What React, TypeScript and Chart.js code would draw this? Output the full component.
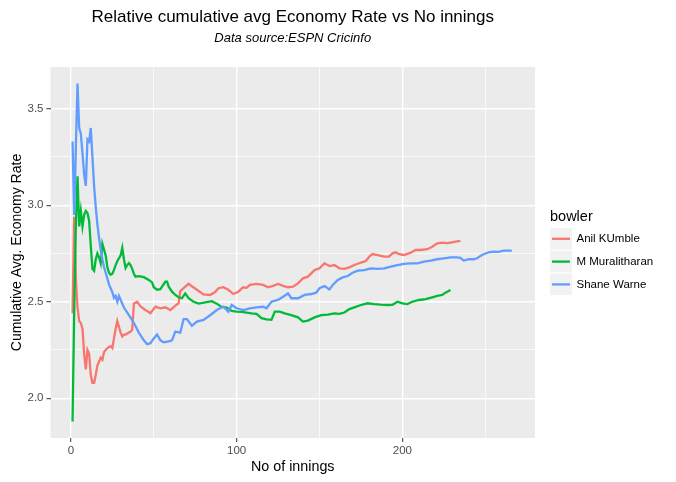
import React, { useEffect, useRef } from "react";
import { Chart, registerables } from "chart.js";

Chart.register(...registerables);

const FONT = "'Liberation Sans', Arial, sans-serif";

const bowlers = ["Anil KUmble", "M Muralitharan", "Shane Warne"];
const bowlerColors = ["#F8766D", "#00BA38", "#619CFF"];

const kumbleInnings = [
  1, 2, 3, 4, 5, 6, 7, 8, 9, 10, 11, 12, 13, 14, 15, 16, 17, 18, 19, 20,
  21, 22, 23, 24, 25, 26, 27, 28, 29, 30, 31, 32, 33, 34, 35, 36, 37, 38, 40, 42,
  45, 48, 51, 54, 57, 60, 63, 65, 66, 68, 71, 73, 76, 80, 84, 87, 89, 92, 95, 98,
  101, 104, 106, 108, 112, 116, 119, 122, 125, 128, 131, 134, 137, 140, 143, 147, 150, 153, 156, 159,
  162, 165, 168, 171, 175, 178, 180, 182, 185, 189, 192, 194, 196, 198, 201, 205, 208, 211, 215, 218,
  221, 224, 227, 230, 232, 235,
];
const kumbleRate = [
  2.44, 2.94, 2.62, 2.47, 2.4, 2.39, 2.36, 2.23, 2.15, 2.25, 2.23, 2.12, 2.08, 2.08, 2.12, 2.17, 2.19, 2.21, 2.2, 2.24,
  2.25, 2.26, 2.265, 2.27, 2.26, 2.31, 2.36, 2.4, 2.37, 2.34, 2.32, 2.33, 2.33, 2.335, 2.34, 2.345, 2.355, 2.49, 2.5, 2.475,
  2.457, 2.44, 2.475, 2.466, 2.471, 2.457, 2.48, 2.492, 2.555, 2.57, 2.593, 2.58, 2.562, 2.538, 2.535, 2.55, 2.57, 2.575, 2.562, 2.54,
  2.552, 2.575, 2.572, 2.587, 2.592, 2.587, 2.575, 2.582, 2.592, 2.582, 2.575, 2.578, 2.595, 2.621, 2.63, 2.664, 2.673, 2.699, 2.685, 2.69,
  2.673, 2.67, 2.678, 2.69, 2.703, 2.711, 2.734, 2.747, 2.742, 2.734, 2.734, 2.751, 2.756, 2.746, 2.742, 2.754, 2.768, 2.768, 2.772, 2.785,
  2.803, 2.806, 2.804, 2.808, 2.811, 2.815,
];

const muraliInnings = [
  1, 2, 3, 4, 5, 6, 7, 8, 9, 10, 11, 12, 13, 14, 15, 16, 17, 18, 19, 20,
  21, 22, 23, 24, 25, 26, 27, 28, 29, 30, 31, 32, 33, 34, 35, 36, 37, 38, 39, 41,
  44, 47, 49, 50, 52, 54, 55, 57, 58, 59, 61, 63, 65, 67, 69, 71, 74, 77, 81, 85,
  88, 91, 94, 97, 100, 103, 106, 109, 112, 115, 118, 121, 123, 126, 129, 133, 137, 140, 143, 147,
  151, 155, 159, 162, 165, 168, 171, 175, 179, 183, 187, 191, 194, 197, 200, 203, 206, 210, 214, 218,
  221, 224, 226, 229,
];
const muraliRate = [
  1.88, 2.45, 2.9, 3.15, 2.89, 2.97, 2.89, 2.95, 2.97, 2.96, 2.92, 2.79, 2.67, 2.66, 2.72, 2.75, 2.73, 2.7, 2.8, 2.77,
  2.74, 2.68, 2.65, 2.64, 2.645, 2.665, 2.69, 2.71, 2.725, 2.74, 2.78, 2.72, 2.675, 2.69, 2.7, 2.69, 2.67, 2.645, 2.63, 2.633,
  2.627, 2.613, 2.6, 2.575, 2.562, 2.565, 2.578, 2.604, 2.604, 2.578, 2.552, 2.535, 2.523, 2.518, 2.543, 2.518, 2.5, 2.49, 2.496, 2.503,
  2.49, 2.473, 2.47, 2.453, 2.449, 2.447, 2.444, 2.44, 2.437, 2.415, 2.409, 2.406, 2.449, 2.449, 2.44, 2.431, 2.419, 2.397, 2.402, 2.419,
  2.431, 2.433, 2.44, 2.437, 2.444, 2.462, 2.471, 2.483, 2.492, 2.488, 2.485, 2.483, 2.484, 2.5, 2.492, 2.488, 2.5, 2.509, 2.513, 2.523,
  2.53, 2.535, 2.547, 2.561,
];

const warneInnings = [
  1, 2, 3, 4, 5, 6, 7, 8, 9, 10, 11, 12, 13, 14, 15, 16, 17, 18, 19, 20,
  21, 22, 23, 24, 25, 26, 27, 28, 29, 30, 32, 35, 38, 41, 44, 46, 48, 50, 52, 54,
  56, 59, 61, 63, 66, 68, 70, 73, 76, 80, 84, 88, 92, 95, 97, 100, 104, 108, 112, 116,
  118, 121, 125, 128, 131, 133, 137, 141, 145, 148, 150, 153, 156, 158, 161, 164, 167, 170, 173, 177,
  181, 185, 189, 193, 197, 201, 205, 209, 213, 217, 221, 225, 229, 233, 235, 237, 240, 243, 245, 248,
  252, 255, 258, 261, 266,
];
const warneRate = [
  3.33, 2.95, 3.3, 3.63, 3.4, 3.37, 3.27, 3.16, 3.1, 3.34, 3.33, 3.4, 3.25, 3.1, 2.99, 2.9, 2.83, 2.77, 2.72, 2.68,
  2.65, 2.62, 2.59, 2.57, 2.55, 2.52, 2.53, 2.5, 2.53, 2.51, 2.47, 2.43, 2.39, 2.34, 2.3, 2.28, 2.285, 2.31, 2.33, 2.3,
  2.29, 2.295, 2.3, 2.345, 2.34, 2.41, 2.41, 2.375, 2.397, 2.406, 2.43, 2.457, 2.475, 2.448, 2.483, 2.466, 2.457, 2.466, 2.471, 2.474,
  2.466, 2.5, 2.509, 2.526, 2.543, 2.518, 2.518, 2.535, 2.54, 2.547, 2.57, 2.581, 2.564, 2.587, 2.613, 2.626, 2.633, 2.65, 2.661, 2.664,
  2.673, 2.67, 2.673, 2.682, 2.69, 2.696, 2.699, 2.699, 2.708, 2.713, 2.72, 2.725, 2.73, 2.73, 2.727, 2.713, 2.72, 2.72, 2.725, 2.742,
  2.756, 2.76, 2.758, 2.765, 2.765,
];

const xMajorTicks = [0, 100, 200];
const xMinorTicks = [50, 150, 250];
const yMajorTicks = [2.0, 2.5, 3.0, 3.5];
const yMinorTicks = [2.25, 2.75, 3.25];

const titleText = "Relative cumulative avg Economy Rate vs No innings";
const subtitleText = "Data source:ESPN Cricinfo";
const xTitle = "No of innings";
const yTitle = "Cumulative Avg. Economy Rate";
const legendTitle = "bowler";

const seriesInnings = [kumbleInnings, muraliInnings, warneInnings];
const seriesRates = [kumbleRate, muraliRate, warneRate];

const isMajor = (list: number[], v: number) => list.some((m) => Math.abs(m - v) < 1e-9);

const panelBgPlugin = {
  id: "panelBg",
  beforeDraw(chart: any) {
    const { ctx, chartArea: a } = chart;
    ctx.save();
    ctx.fillStyle = "#FFFFFF";
    ctx.fillRect(0, 0, chart.width, chart.height);
    ctx.fillStyle = "#EBEBEB";
    ctx.fillRect(a.left, a.top, a.right - a.left, a.bottom - a.top);
    ctx.restore();
  },
};

const legendPlugin = {
  id: "ggLegend",
  afterDraw(chart: any) {
    const ctx = chart.ctx;
    ctx.save();
    ctx.textBaseline = "middle";
    ctx.textAlign = "left";
    ctx.fillStyle = "#000000";
    ctx.font = `14.5px ${FONT}`;
    ctx.fillText(legendTitle, 550, 216.5);
    chart.data.datasets.forEach((ds: any, i: number) => {
      const top = 228 + i * 22.8;
      ctx.fillStyle = "#F2F2F2";
      ctx.fillRect(550, top, 22, 21.6);
      ctx.strokeStyle = ds.borderColor;
      ctx.lineWidth = 2.3;
      ctx.beginPath();
      ctx.moveTo(552, top + 10.8);
      ctx.lineTo(570, top + 10.8);
      ctx.stroke();
      ctx.fillStyle = "#000000";
      ctx.font = `11.5px ${FONT}`;
      ctx.fillText(ds.label, 576.5, top + 10.8);
    });
    ctx.restore();
  },
};

export default function App() {
  const canvasRef = useRef<HTMLCanvasElement | null>(null);

  useEffect(() => {
    if (!canvasRef.current) return;
    const datasets = bowlers.map((name, i) => ({
      label: name,
      data: seriesInnings[i].map((n, k) => ({ x: n, y: seriesRates[i][k] })),
      borderColor: bowlerColors[i],
      backgroundColor: bowlerColors[i],
      borderWidth: 2.3,
      pointRadius: 0,
      pointHoverRadius: 0,
      tension: 0,
      fill: false,
      order: bowlers.length - 1 - i,
    }));

    const chart = new Chart(canvasRef.current, {
      type: "line",
      data: { datasets },
      plugins: [panelBgPlugin, legendPlugin],
      options: {
        responsive: false,
        animation: false,
        events: [],
        layout: { padding: { left: 0, right: 141, top: 0, bottom: 0 } },
        plugins: {
          legend: { display: false },
          tooltip: { enabled: false },
          title: {
            display: true,
            text: titleText,
            fullSize: false,
            color: "#000000",
            font: { family: FONT, size: 17, weight: "normal" },
            padding: { top: 6.8, bottom: 2 },
          },
          subtitle: {
            display: true,
            text: subtitleText,
            fullSize: false,
            color: "#000000",
            font: { family: FONT, size: 13, style: "italic", weight: "normal" },
            padding: { top: 1.5, bottom: 20.7 },
          },
        },
        scales: {
          x: {
            type: "linear",
            min: -12.3,
            max: 280,
            afterFit: (scale: any) => {
              scale.height = 44;
            },
            afterBuildTicks: (scale: any) => {
              scale.ticks = [...xMajorTicks, ...xMinorTicks]
                .sort((a, b) => a - b)
                .map((v) => ({ value: v }));
            },
            border: { display: false },
            grid: {
              color: "#FFFFFF",
              lineWidth: (ctx: any) => (isMajor(xMajorTicks, ctx.tick?.value) ? 1.4 : 0.7),
              tickColor: (ctx: any) => (isMajor(xMajorTicks, ctx.tick?.value) ? "#333333" : "rgba(0,0,0,0)"),
              tickLength: 4,
              tickWidth: 1,
            },
            ticks: {
              autoSkip: false,
              maxRotation: 0,
              padding: 2,
              color: "#4D4D4D",
              font: { family: FONT, size: 11.5 },
              callback: (v: any) => (isMajor(xMajorTicks, Number(v)) ? String(v) : ""),
            },
            title: {
              display: true,
              text: xTitle,
              color: "#000000",
              font: { family: FONT, size: 14.3 },
              padding: { top: 0, bottom: 6.3 },
            },
          },
          y: {
            type: "linear",
            min: 1.794,
            max: 3.716,
            afterFit: (scale: any) => {
              scale.width = 50.5;
            },
            afterBuildTicks: (scale: any) => {
              scale.ticks = [...yMajorTicks, ...yMinorTicks]
                .sort((a, b) => a - b)
                .map((v) => ({ value: v }));
            },
            border: { display: false },
            grid: {
              color: "#FFFFFF",
              lineWidth: (ctx: any) => (isMajor(yMajorTicks, ctx.tick?.value) ? 1.4 : 0.7),
              tickColor: (ctx: any) => (isMajor(yMajorTicks, ctx.tick?.value) ? "#333333" : "rgba(0,0,0,0)"),
              tickLength: 4,
              tickWidth: 1,
            },
            ticks: {
              autoSkip: false,
              padding: 3,
              color: "#4D4D4D",
              font: { family: FONT, size: 11.5 },
              callback: (v: any) => (isMajor(yMajorTicks, Number(v)) ? Number(v).toFixed(1) : ""),
            },
            title: {
              display: true,
              text: yTitle,
              color: "#000000",
              font: { family: FONT, size: 14 },
              padding: { top: 9, bottom: 0 },
            },
          },
        },
      },
    } as any);

    return () => chart.destroy();
  }, []);

  return (
    <div style={{ position: "fixed", left: 0, top: 0, width: 676, height: 482, background: "#FFFFFF" }}>
      <canvas ref={canvasRef} width={676} height={482} style={{ width: 676, height: 482, display: "block" }} />
    </div>
  );
}
